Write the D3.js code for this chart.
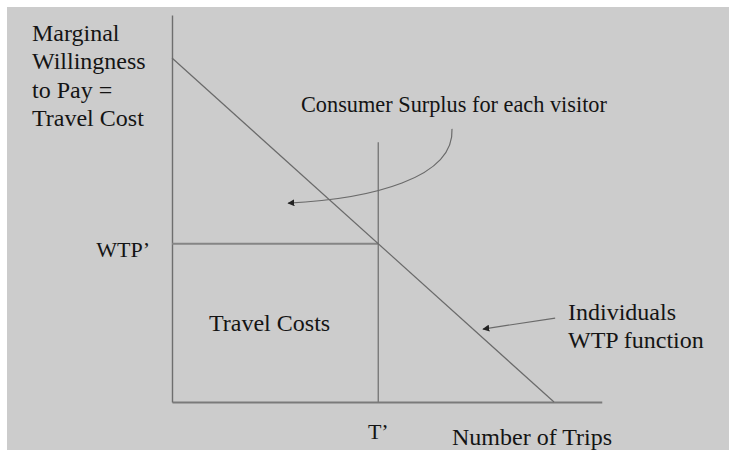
<!DOCTYPE html>
<html>
<head>
<meta charset="utf-8">
<script src="https://cdn.jsdelivr.net/npm/d3@7"></script>
<style>
  html, body { margin: 0; padding: 0; background: #ffffff; }
  svg { display: block; }
  text { font-family: "Liberation Serif", "Times New Roman", serif; fill: #141414; }
</style>
</head>
<body>
<svg id="chart" width="729" height="450"></svg>
<script>
// Travel cost model: individual willingness-to-pay (demand) for trips
const axisMax = [11.25, 11.25];          // extent of quantity and price axes
const demandTrips = [0, 10];             // number of trips
const demandWTP = [10, 0];               // marginal willingness to pay
const tripsStar = 5.4;                   // T'
const wtpStar = 4.6;                     // WTP'
const tripsGuideTop = 7.55;              // top of the T' guide line
const yAxisTitle = ["Marginal", "Willingness", "to Pay =", "Travel Cost"];
const xAxisTitle = "Number of Trips";
const surplusLabel = "Consumer Surplus for each visitor";
const costLabel = "Travel Costs";
const demandLabel = ["Individuals", "WTP function"];
// annotation arrows, in data units: [trips, wtp]
const surplusArrow = [[7.33, 7.94], [7.4, 6.5], [5.2, 5.9], [3.04, 5.78]];
const demandArrow = [[10.03, 2.44], [8.14, 2.12]];

const svg = d3.select("#chart");
const W = 729, H = 450;

// panel background
svg.append("rect").attr("x", 7).attr("y", 7).attr("width", W - 7).attr("height", H - 7)
  .attr("fill", "#cccccc");

const x = d3.scaleLinear().domain([0, 10]).range([172, 554]);
const y = d3.scaleLinear().domain([0, 10]).range([402, 58]);

const defs = svg.append("defs");
defs.append("marker").attr("id", "head")
  .attr("viewBox", "0 0 10 10").attr("refX", 9).attr("refY", 5)
  .attr("markerWidth", 7).attr("markerHeight", 7).attr("markerUnits", "userSpaceOnUse")
  .attr("orient", "auto")
  .append("path").attr("d", "M0,0 L10,5 L0,10 Z").attr("fill", "#222");

// axes (plain lines, no ticks)
const xs = d3.scaleLinear().domain([0, axisMax[0]]).range([x(0), x(axisMax[0])]);
const ys = d3.scaleLinear().domain([0, axisMax[1]]).range([y(0), y(axisMax[1])]);
svg.append("g").attr("transform", `translate(0,${y(0)})`)
  .call(d3.axisBottom(xs).tickValues([]).tickSizeOuter(0))
  .call(g => g.select(".domain").attr("stroke", "#7a7a7a").attr("stroke-width", 2));
svg.append("g").attr("transform", `translate(${x(0)},0)`)
  .call(d3.axisLeft(ys).tickValues([]).tickSizeOuter(0))
  .call(g => g.select(".domain").attr("stroke", "#6e6e6e").attr("stroke-width", 1.4));

// WTP' horizontal and T' vertical
svg.append("line")
  .attr("x1", x(0)).attr("x2", x(tripsStar)).attr("y1", y(wtpStar)).attr("y2", y(wtpStar))
  .attr("stroke", "#858585").attr("stroke-width", 2);
svg.append("line")
  .attr("x1", x(tripsStar)).attr("x2", x(tripsStar)).attr("y1", y(0)).attr("y2", y(tripsGuideTop))
  .attr("stroke", "#7a7a7a").attr("stroke-width", 1.4);

// demand (WTP) line
const line = d3.line().x(d => x(d[0])).y(d => y(d[1]));
svg.append("path")
  .datum(demandTrips.map((t, i) => [t, demandWTP[i]]))
  .attr("d", line).attr("fill", "none").attr("stroke", "#6a6a6a").attr("stroke-width", 1.2);

// curved arrow to the consumer surplus area
svg.append("path")
  .datum(surplusArrow)
  .attr("d", d => {
    const p = d.map(v => [x(v[0]), y(v[1])]);
    return `M${p[0][0]},${p[0][1]} C${p[1][0]},${p[1][1]} ${p[2][0]},${p[2][1]} ${p[3][0]},${p[3][1]}`;
  })
  .attr("fill", "none").attr("stroke", "#6a6a6a").attr("stroke-width", 1.2)
  .attr("marker-end", "url(#head)");

// straight arrow to the WTP function
svg.append("path")
  .datum(demandArrow)
  .attr("d", line).attr("fill", "none").attr("stroke", "#6a6a6a").attr("stroke-width", 1.2)
  .attr("marker-end", "url(#head)");

const fs = 24;
// y-axis title
svg.append("text").attr("font-size", fs)
  .selectAll("tspan").data(yAxisTitle).join("tspan")
  .attr("x", 32).attr("y", (d, i) => 41 + i * 28.3).text(d => d);

// x-axis title and markers
svg.append("text").attr("font-size", fs).attr("x", 452).attr("y", 445).text(xAxisTitle);
svg.append("text").attr("font-size", 22).attr("x", x(tripsStar)).attr("y", 439)
  .attr("text-anchor", "middle").text("T’");
svg.append("text").attr("font-size", 22).attr("x", 150).attr("y", y(wtpStar) + 13)
  .attr("text-anchor", "end").text("WTP’");

// annotations
svg.append("text").attr("font-size", 22.3).attr("x", 301).attr("y", 112).text(surplusLabel);
svg.append("text").attr("font-size", fs).attr("x", 209).attr("y", 331).text(costLabel);
svg.append("text").attr("font-size", fs)
  .selectAll("tspan").data(demandLabel).join("tspan")
  .attr("x", 568).attr("y", (d, i) => 320 + i * 28).text(d => d);
</script>
</body>
</html>
